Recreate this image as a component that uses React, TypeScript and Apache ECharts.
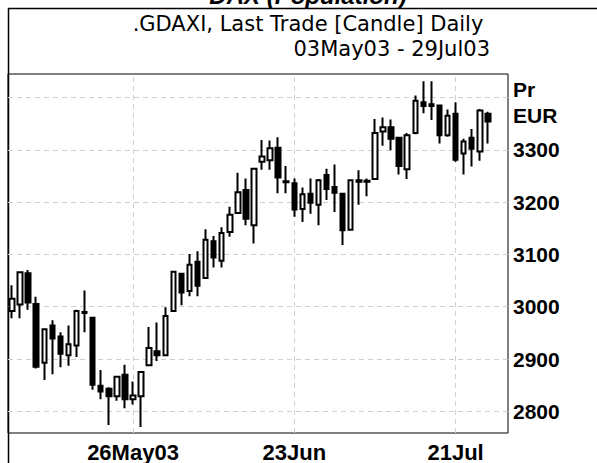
import React, { useEffect, useRef } from "react";
import * as echarts from "echarts";

const dates = [
  "05May03","06May03","07May03","08May03","09May03","12May03","13May03","14May03","15May03","16May03",
  "19May03","20May03","21May03","22May03","23May03","26May03","27May03","28May03","29May03","30May03",
  "02Jun03","03Jun03","04Jun03","05Jun03","06Jun03","09Jun03","10Jun03","11Jun03","12Jun03","13Jun03",
  "16Jun03","17Jun03","18Jun03","19Jun03","20Jun03","23Jun03","24Jun03","25Jun03","26Jun03","27Jun03",
  "30Jun03","01Jul03","02Jul03","03Jul03","04Jul03","07Jul03","08Jul03","09Jul03","10Jul03","11Jul03",
  "14Jul03","15Jul03","16Jul03","17Jul03","18Jul03","21Jul03","22Jul03","23Jul03","24Jul03","25Jul03",
  "28Jul03","29Jul03",
];

const opens = [
  2992, 3004, 3064, 3005, 2893, 2964, 2943, 2907, 2926, 2990,
  2979, 2849, 2843, 2829, 2870, 2823, 2829, 2888, 2915, 2907,
  2992, 3063, 3030, 3086, 3055, 3125, 3088, 3143, 3179, 3223,
  3156, 3277, 3280, 3304, 3240, 3236, 3187, 3216, 3195, 3252,
  3229, 3216, 3147, 3239, 3239, 3244, 3335, 3343, 3323, 3263,
  3332, 3391, 3387, 3385, 3328, 3369, 3293, 3323, 3297, 3369,
];
const highs = [
  3041, 3068, 3070, 3019, 2959, 2974, 2951, 2964, 2994, 3031,
  2980, 2879, 2846, 2867, 2889, 2857, 2877, 2961, 2970, 2999,
  3068, 3065, 3101, 3106, 3148, 3135, 3152, 3191, 3256, 3245,
  3265, 3319, 3318, 3324, 3269, 3245, 3228, 3245, 3244, 3264,
  3272, 3217, 3243, 3261, 3245, 3359, 3362, 3358, 3324, 3332,
  3404, 3431, 3431, 3386, 3377, 3391, 3321, 3340, 3378, 3373,
];
const lows = [
  2978, 2978, 2994, 2882, 2860, 2871, 2884, 2887, 2904, 2951,
  2841, 2823, 2774, 2820, 2806, 2813, 2770, 2887, 2896, 2906,
  2991, 3003, 3020, 3020, 3054, 3075, 3075, 3134, 3178, 3156,
  3121, 3262, 3262, 3217, 3217, 3172, 3162, 3178, 3156, 3204,
  3181, 3118, 3146, 3195, 3211, 3243, 3308, 3299, 3253, 3244,
  3330, 3370, 3357, 3312, 3325, 3277, 3253, 3268, 3279, 3312,
];
const closes = [
  3015, 3066, 3008, 2885, 2957, 2939, 2910, 2928, 2992, 2988,
  2851, 2838, 2829, 2866, 2823, 2830, 2875, 2921, 2907, 2982,
  3067, 3027, 3080, 3040, 3128, 3094, 3141, 3176, 3219, 3168,
  3264, 3287, 3303, 3247, 3238, 3186, 3215, 3199, 3242, 3225,
  3218, 3146, 3242, 3242, 3241, 3332, 3343, 3321, 3269, 3328,
  3394, 3384, 3384, 3328, 3365, 3281, 3316, 3302, 3375, 3354,
];

const gridDates = ["26May03", "23Jun03", "21Jul03"];
const gridLabels = ["26May03", "23Jun", "21Jul"];
const priceTicks = [2800, 2900, 3000, 3100, 3200, 3300];

const FONT = "'Liberation Sans', Arial, sans-serif";
const NARROW = "'Liberation Sans Narrow', 'Arial Narrow', 'Liberation Sans', sans-serif";
const TITLE_FONT = "'DejaVu Sans', 'Liberation Sans', sans-serif";

export default function App() {
  const ref = useRef<HTMLDivElement>(null);
  useEffect(() => {
    if (!ref.current) return;
    const chart = echarts.init(ref.current, null, { renderer: "svg" });
    const data = dates.map((d, i) =>
      i < opens.length ? [opens[i], closes[i], lows[i], highs[i]] : "-"
    );
    const isGrid = (_i: number, v: string) => gridDates.indexOf(v) >= 0;
    const dash = { color: "#cfcfcf", width: 1, type: [5, 4] as any };
    chart.setOption({
      animation: false,
      grid: {
        left: 8,
        top: 74,
        right: 89,
        bottom: 25,
        show: true,
        borderColor: "#000",
        borderWidth: 1,
      },
      xAxis: {
        type: "category",
        data: dates,
        boundaryGap: true,
        axisLine: { show: false },
        axisTick: { show: false },
        splitLine: { show: false },
        axisLabel: {
          interval: isGrid,
          formatter: (v: string) => {
            const k = gridDates.indexOf(v);
            return k >= 0 ? gridLabels[k] : "";
          },
          fontFamily: FONT,
          fontWeight: "bold",
          fontSize: 22,
          color: "#000",
          margin: 8,
        },
      },
      yAxis: {
        type: "value",
        position: "right",
        min: 2758.5,
        max: 3445,
        splitNumber: 7,
        axisLine: { show: false },
        axisTick: { show: false },
        splitLine: {
          show: true,
          showMinLine: false,
          showMaxLine: false,
          lineStyle: dash,
        },
        axisLabel: {
          formatter: (v: number) =>
            priceTicks.indexOf(Math.round(v)) >= 0 && Math.abs(v - Math.round(v)) < 1e-6
              ? String(Math.round(v))
              : "",
          fontFamily: NARROW,
          fontWeight: "bold",
          fontSize: 21,
          color: "#000",
          margin: 5,
          padding: [7, 0, 0, 0],
        },
      },
      series: [
        {
          type: "candlestick",
          data,
          barWidth: 5,
          itemStyle: {
            color: "#fff",
            color0: "#000",
            borderColor: "#000",
            borderColor0: "#000",
            borderColorDoji: "#000",
            borderWidth: 2,
          },
          markLine: {
            silent: true,
            symbol: "none",
            label: { show: false },
            lineStyle: dash,
            z: 0,
            data: gridDates.map((d) => ({ xAxis: d })),
          },
        },
      ],
      graphic: [
        {
          type: "line",
          shape: { x1: 8, y1: 8.5, x2: 597, y2: 8.5 },
          style: { stroke: "#000", lineWidth: 1.5 },
        },
        {
          type: "line",
          shape: { x1: 8.5, y1: 8, x2: 8.5, y2: 463 },
          style: { stroke: "#000", lineWidth: 1.5 },
        },
        {
          type: "text",
          x: 308,
          y: 7,
          style: {
            text: "DAX (Population)",
            font: `italic bold 24px ${FONT}`,
            fill: "#000",
            align: "center",
            verticalAlign: "bottom",
          },
        },
        {
          type: "text",
          x: 308,
          y: 24,
          style: {
            text: ".GDAXI, Last Trade [Candle] Daily",
            font: `21px ${TITLE_FONT}`,
            fill: "#000",
            align: "center",
            verticalAlign: "middle",
          },
        },
        {
          type: "text",
          x: 490,
          y: 49,
          style: {
            text: "03May03 - 29Jul03",
            font: `21px ${TITLE_FONT}`,
            fill: "#000",
            align: "right",
            verticalAlign: "middle",
          },
        },
        {
          type: "text",
          x: 513,
          y: 89,
          style: {
            text: "Pr",
            font: `bold 21px ${NARROW}`,
            fill: "#000",
            align: "left",
            verticalAlign: "middle",
          },
        },
        {
          type: "text",
          x: 513,
          y: 115,
          style: {
            text: "EUR",
            font: `bold 21px ${NARROW}`,
            fill: "#000",
            align: "left",
            verticalAlign: "middle",
          },
        },
      ],
    });
    return () => chart.dispose();
  }, []);
  return <div ref={ref} style={{ width: 597, height: 463, position: "absolute", left: 0, top: 0 }} />;
}
